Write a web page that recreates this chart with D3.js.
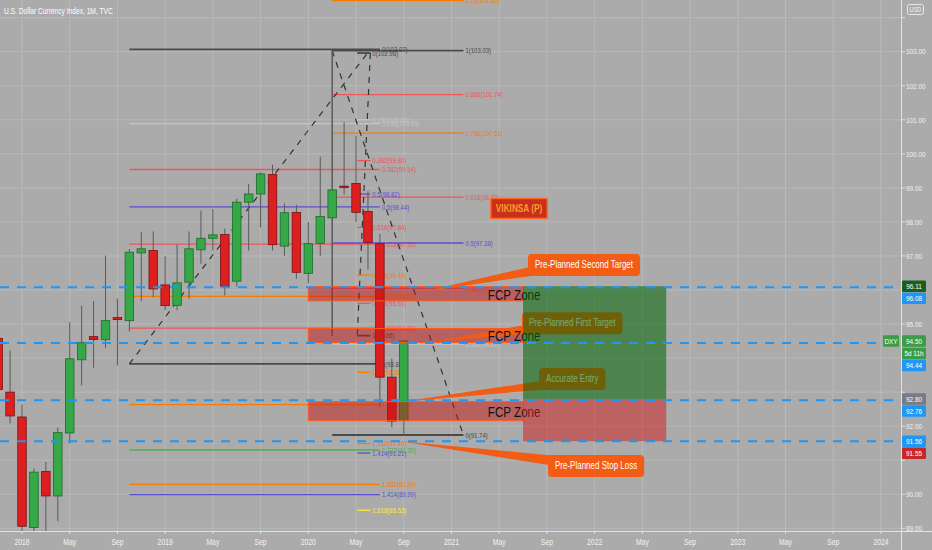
<!DOCTYPE html>
<html><head><meta charset="utf-8">
<script src="https://cdn.jsdelivr.net/npm/d3@7"></script>
<style>body{margin:0;background:#ababab;}svg{display:block;font-family:"Liberation Sans",Arial,sans-serif;}</style>
</head><body><svg id="c" width="932" height="550"></svg>
<script>
// ---------- DATA ----------
// month index: 0 = Jan 2018
const candleMonths = d3.range(-2, 33);
const opens  = [94.58,93.00,92.27,89.02,90.67,89.95,91.80,93.95,94.63,94.54,95.19,95.10,97.09,97.16,96.15,95.55,96.23,97.18,97.52,97.63,96.26,98.58,98.82,99.39,97.29,98.28,96.49,97.37,98.12,99.05,99.13,98.31,97.36,93.44,92.17];
const highs  = [95.10,94.22,92.64,90.75,90.95,91.97,95.05,95.54,95.67,97.01,95.75,97.20,97.70,97.72,96.99,97.33,97.72,98.33,98.38,97.80,98.68,99.12,99.46,99.68,98.54,98.50,98.00,99.92,103.05,100.93,100.53,98.90,97.65,93.99,94.52];
const lows   = [92.95,92.08,88.50,88.60,88.90,89.21,91.49,93.20,93.72,94.30,93.78,94.78,95.67,95.79,95.41,95.40,95.74,96.77,97.16,95.84,96.10,97.16,97.84,97.16,97.00,96.33,96.20,97.00,94.65,98.80,97.99,96.60,92.56,91.97,91.73];
const closes = [93.08,92.30,89.06,90.65,89.95,91.81,93.98,94.45,94.55,95.10,95.13,97.11,97.21,96.03,95.54,96.21,97.21,97.52,97.62,96.11,98.58,98.82,99.41,97.33,98.27,96.52,97.36,98.16,98.94,99.02,98.28,97.40,93.44,92.15,94.50];

const timeTickMonths = d3.range(0, 73, 4);
const timeTickLabels = ["2018","May","Sep","2019","May","Sep","2020","May","Sep","2021","May","Sep","2022","May","Sep","2023","May","Sep","2024"];
const priceTicks = d3.range(89, 105);

// Fib tool A (Oct 2018 low -> Mar 2020 high)
const fibASpan = [9, 30];
const fibARatios = [0,0.236,0.382,0.5,0.618,0.786,0.886,1,1.13,1.272,1.382,1.414];
const fibAPrices = [103.07,100.89,99.54,98.44,97.35,95.81,94.88,93.83,92.63,91.30,90.29,89.99];
const fibATrend = [[9,93.83],[29.2,103.07]];
// Fib tool B (short)
const fibBSpan = [28.1, 29.2];
const fibBRatios = [0,0.236,0.382,0.5,0.618,0.786,0.886,1,1.13,1.382,1.414,1.618];
const fibBPrices = [102.96,101.00,99.80,98.82,97.84,96.44,95.61,94.66,93.58,91.49,91.21,89.53];
const fibBTrend = [[29.2,102.96],[28.1,94.66]];
// Fib tool C
const fibCSpan = [26, 37];
const fibCRatios = [0,0.236,0.382,0.5,0.618,0.786,0.886,1,1.13];
const fibCPrices = [91.74,94.41,96.05,97.38,98.73,100.61,101.74,103.03,104.50];
const fibCTrend = [[26,103.03],[37,91.74]];
const marchVertical = [26, 103.07, 94.65];

// FCP zones [top, bottom]
const zoneSpan = [24, 42];
const zoneTops = [96.10, 94.87, 92.72];
const zoneBottoms = [95.68, 94.46, 92.16];

// Long position
const posSpan = [42, 54];
const posEntry = 92.80, posTarget = 96.11, posStop = 91.56;

// horizontal blue dashed lines
const bluePrices = [96.08, 94.44, 92.76, 91.56];

// callouts
const calloutTexts = ["Pre-Planned Second Target","Pre-Planned First Target","Accurate Entry","Pre-Planned Stop Loss"];
const calloutAnchors = [[42.41,97.06],[41.91,95.35],[43.34,93.71],[44.09,91.15]];
const calloutTips = [[33.5,95.94],[34.2,94.47],[31.7,92.71],[31.7,91.56]];

const lastPrice = 94.50;

// ---------- STYLE ----------
const fibColors = {dk:"#4a4a4a", lg:"#c6c6c6", rd:"#f0545a", pu:"#5a4fcf", or:"#f57c00", gr:"#4caf50", ye:"#ffeb3b"};
const fibAStyle = ["dk","lg","rd","pu","rd","or","rd","dk","or","gr","or","pu"];
const fibBStyle = ["dk","lg","rd","pu","rd","or","rd","dk","or","or","pu","ye"];
const fibCStyle = ["dk","lg","rd","pu","rd","or","rd","dk","or"];
const SX = 0.8;

const W = 932, H = 550, plotR = 902, plotB = 531;
const svg = d3.select('#c');
const x = d3.scaleLinear().domain([0, 72]).range([22, 22 + 72 * 11.93]);
const y = d3.scaleLinear().domain([89, 103]).range([528.3, 51.7]);

function T(g, px, py, s, size, fill, anchor, weight, sx) {
  const k = sx || SX;
  return g.append('text').attr('transform', `translate(${px},${py}) scale(${k},1)`)
    .attr('font-size', size).attr('fill', fill).attr('text-anchor', anchor || 'start')
    .attr('font-weight', weight || 'normal').attr('dominant-baseline', 'central').text(s);
}

svg.append('rect').attr('width', W).attr('height', H).attr('fill', '#ababab');
svg.append('defs').append('clipPath').attr('id', 'pc').append('rect').attr('width', plotR).attr('height', plotB);

// grid
const grid = svg.append('g').attr('stroke', '#b9b9b9').attr('stroke-width', 1);
grid.selectAll('.h').data(priceTicks).join('line').attr('x1', 0).attr('x2', plotR).attr('y1', d => y(d)).attr('y2', d => y(d));
grid.selectAll('.v').data(timeTickMonths).join('line').attr('y1', 0).attr('y2', plotB).attr('x1', d => x(d)).attr('x2', d => x(d));

const P = svg.append('g').attr('clip-path', 'url(#pc)');

// fib tools
function fib(span, ratios, prices, styles, labelGap) {
  const g = P.append('g');
  ratios.forEach((r, i) => {
    const c = fibColors[styles[i]];
    g.append('line').attr('x1', x(span[0])).attr('x2', x(span[1])).attr('y1', y(prices[i])).attr('y2', y(prices[i]))
      .attr('stroke', c).attr('stroke-width', styles[i] === 'dk' ? 1.8 : 1.3);
    T(g, x(span[1]) + labelGap, y(prices[i]), `${r}(${prices[i].toFixed(2)})`, 7.5, c);
  });
}
function trend(pts) {
  P.append('line').attr('x1', x(pts[0][0])).attr('y1', y(pts[0][1])).attr('x2', x(pts[1][0])).attr('y2', y(pts[1][1]))
    .attr('stroke', '#333').attr('stroke-width', 1.2).attr('stroke-dasharray', '6,6');
}
fib(fibASpan, fibARatios, fibAPrices, fibAStyle, 2);
fib(fibCSpan, fibCRatios, fibCPrices, fibCStyle, 2);
fib(fibBSpan, fibBRatios, fibBPrices, fibBStyle, 2);
P.append('line').attr('x1', x(marchVertical[0])).attr('x2', x(marchVertical[0])).attr('y1', y(marchVertical[1])).attr('y2', y(marchVertical[2]))
  .attr('stroke', '#555').attr('stroke-width', 1);
trend(fibATrend); trend(fibBTrend); trend(fibCTrend);

// candles
const bw = 8.5;
const cg = P.append('g');
candleMonths.forEach((m, i) => {
  const up = closes[i] >= opens[i];
  cg.append('line').attr('x1', x(m)).attr('x2', x(m)).attr('y1', y(highs[i])).attr('y2', y(lows[i])).attr('stroke', '#5a5a5a').attr('stroke-width', 1);
  const top = y(Math.max(opens[i], closes[i])), bot = y(Math.min(opens[i], closes[i]));
  cg.append('rect').attr('x', x(m) - bw / 2).attr('width', bw).attr('y', top).attr('height', Math.max(1.5, bot - top))
    .attr('fill', up ? '#35a848' : '#dd1f1f').attr('stroke', up ? '#1d6b2b' : '#7a1212').attr('stroke-width', 0.8);
});

// zones
zoneTops.forEach((t, i) => {
  P.append('rect').attr('x', x(zoneSpan[0])).attr('width', x(zoneSpan[1]) - x(zoneSpan[0]))
    .attr('y', y(t)).attr('height', y(zoneBottoms[i]) - y(t))
    .attr('fill', 'rgba(195,22,22,0.5)').attr('stroke', '#ff5a1f').attr('stroke-width', 1);
});

function callout(i, fill) {
  const g = P.append('g');
  const bx = x(calloutAnchors[i][0]), by = y(calloutAnchors[i][1]);
  const t = T(g, 0, 0, calloutTexts[i], 10, '#ffffff');
  const w = t.node().getComputedTextLength() * SX + 14, h = 22;
  t.attr('transform', `translate(${bx + 7},${by + h / 2}) scale(${SX},1)`);
  const tx = x(calloutTips[i][0]), ty = y(calloutTips[i][1]);
  const base = i === 3 ? [[bx + 10, by + 1], [bx + 1, by + 10]] : [[bx + 2, by + 13], [bx + 10, by + h - 1]];
  g.insert('path', 'text').attr('d', `M${tx},${ty}L${base[0][0]},${base[0][1]}L${base[1][0]},${base[1][1]}Z`).attr('fill', fill);
  g.insert('rect', 'text').attr('x', bx).attr('y', by).attr('width', w).attr('height', h).attr('rx', 4).attr('fill', fill);
}
const orange = '#f25c14';
callout(1, orange);
callout(2, orange);

// FCP Zone texts
zoneTops.forEach((t, i) => {
  T(P, x(39.05), (y(t) + y(zoneBottoms[i])) / 2 + 1, 'FCP Zone', 14.5, '#111');
});

// position box
P.append('rect').attr('x', x(posSpan[0])).attr('width', x(posSpan[1]) - x(posSpan[0]))
  .attr('y', y(posTarget)).attr('height', y(posEntry) - y(posTarget)).attr('fill', 'rgba(0,100,0,0.55)');
P.append('rect').attr('x', x(posSpan[0])).attr('width', x(posSpan[1]) - x(posSpan[0]))
  .attr('y', y(posEntry)).attr('height', y(posStop) - y(posEntry)).attr('fill', 'rgba(205,25,25,0.5)');

callout(0, orange);
callout(3, orange);

// blue dashed lines
P.selectAll('.bl').data(bluePrices).join('line').attr('x1', 0).attr('x2', plotR).attr('y1', d => y(d)).attr('y2', d => y(d))
  .attr('stroke', '#2196f3').attr('stroke-width', 2).attr('stroke-dasharray', '9,8');

// VIKINSA label
{
  const g = P.append('g');
  const bx = x(39.3), by = y(98.69);
  const t = T(g, 0, 0, 'VIKINSA (P)', 11, '#ff9a2e', 'start', 'bold', 0.75);
  const w = t.node().getComputedTextLength() * 0.75 + 10;
  t.attr('transform', `translate(${bx + 5},${by + 10}) scale(0.75,1)`);
  g.insert('rect', 'text').attr('x', bx).attr('y', by).attr('width', w).attr('height', 20)
    .attr('fill', '#c8301c').attr('stroke', '#ff6a28').attr('stroke-width', 1.5);
}

// title
T(svg, 4, 11, 'U.S. Dollar Currency Index, 1M, TVC', 9.5, '#ffffff', 'start', 'normal', 0.7);

// axes
svg.append('line').attr('x1', 0).attr('x2', W).attr('y1', plotB + 0.5).attr('y2', plotB + 0.5).attr('stroke', '#e2e2e2');
svg.append('line').attr('x1', plotR - 0.5).attr('x2', plotR - 0.5).attr('y1', 0).attr('y2', H).attr('stroke', '#e2e2e2');
const ax = svg.append('g');
timeTickMonths.forEach((m, i) => {
  ax.append('line').attr('x1', x(m)).attr('x2', x(m)).attr('y1', plotB).attr('y2', plotB + 3).attr('stroke', '#e2e2e2');
  T(ax, x(m), 542, timeTickLabels[i], 8.5, '#f2f2f2', 'middle');
});

// price label boxes (stacked to avoid overlap)
const boxH = 11.5;
const boxes = [
  {p: posTarget, t: posTarget.toFixed(2), c: '#1b5e20'},
  {p: bluePrices[0], t: bluePrices[0].toFixed(2), c: '#2196f3'},
  {p: lastPrice, t: lastPrice.toFixed(2), c: '#3d9c47', dxy: true},
  {p: lastPrice, t: '5d 11h', c: '#3d9c47', follow: true},
  {p: bluePrices[1], t: bluePrices[1].toFixed(2), c: '#2196f3'},
  {p: posEntry, t: posEntry.toFixed(2), c: '#787b86'},
  {p: bluePrices[2], t: bluePrices[2].toFixed(2), c: '#2196f3'},
  {p: bluePrices[3], t: bluePrices[3].toFixed(2), c: '#2196f3'},
  {p: posStop - 0.01, t: (posStop - 0.01).toFixed(2), c: '#c62828'}
];
let prevBottom = -Infinity;
const occupied = [];
boxes.forEach(b => {
  const cy = b.follow ? prevBottom + 1 + boxH / 2 : Math.max(y(b.p), prevBottom + 0.5 + boxH / 2);
  prevBottom = cy + boxH / 2;
  b.cy = cy;
  occupied.push([cy - boxH / 2, cy + boxH / 2]);
});
// tick labels (hidden where a price box sits on top, as in the reference)
priceTicks.forEach(p => {
  ax.append('line').attr('x1', plotR).attr('x2', plotR + 3).attr('y1', y(p)).attr('y2', y(p)).attr('stroke', '#e2e2e2');
  const yy = y(p);
  const hidden = occupied.some(([a, b]) => yy > a - 3 && yy < b + 3) || yy < 20;
  if (!hidden) T(ax, plotR + 4, yy, p.toFixed(2), 8, '#f2f2f2');
});
boxes.forEach(b => {
  ax.append('rect').attr('x', plotR).attr('y', b.cy - boxH / 2).attr('width', 24).attr('height', boxH).attr('rx', 1).attr('fill', b.c);
  T(ax, plotR + 12, b.cy, b.t, 8, '#ffffff', 'middle');
  if (b.dxy) {
    ax.append('rect').attr('x', plotR - 19).attr('y', b.cy - boxH / 2).attr('width', 16).attr('height', boxH).attr('rx', 1).attr('fill', b.c);
    T(ax, plotR - 11, b.cy, 'DXY', 8, '#ffffff', 'middle');
  }
});

// USD badge
svg.append('rect').attr('x', 907.5).attr('y', 4.5).attr('width', 16).attr('height', 10).attr('rx', 2).attr('fill', '#ababab').attr('stroke', '#e6e6e6');
T(svg, 915.5, 9.5, 'USD', 7, '#f2f2f2', 'middle');
</script></body></html>
